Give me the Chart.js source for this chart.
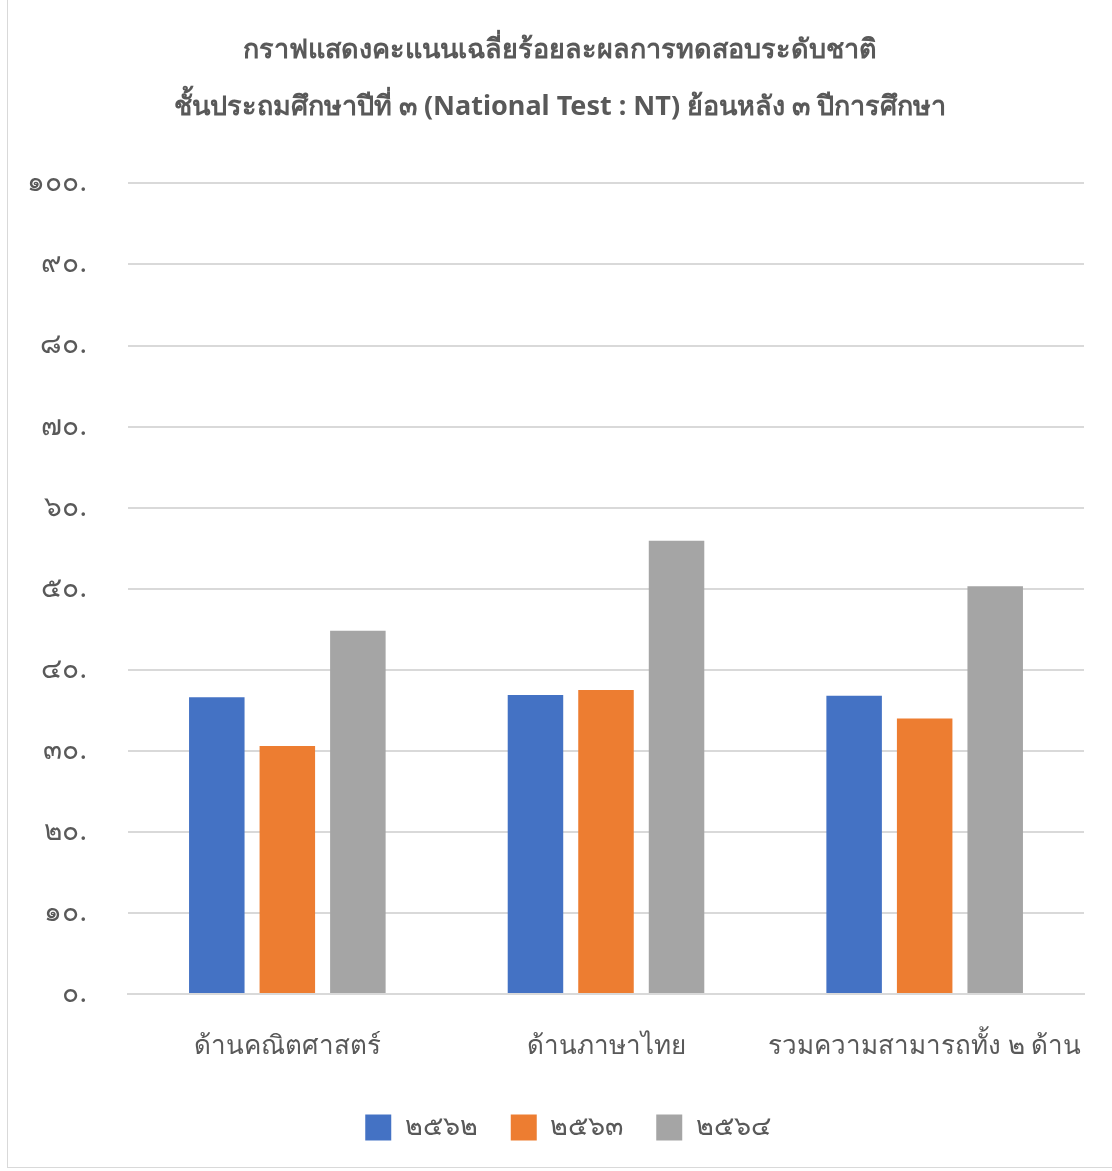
<!DOCTYPE html>
<html>
<head>
<meta charset="utf-8">
<script src="https://cdn.jsdelivr.net/npm/chart.js@4.4.1/dist/chart.umd.min.js"></script>
<style>
	html, body { margin: 0; padding: 0; background: #fff; }
	#frame { position: absolute; left: 7px; top: -2px; width: 1120px; height: 1170px; border: 1px solid #d9d9d9; box-sizing: border-box; }
	#chart { position: absolute; left: 0; top: 0; }
</style>
</head>
<body>
<div id="frame"></div>
<canvas id="chart" width="1112" height="1171"></canvas>
<script>
const categories = ["ด้านคณิตศาสตร์", "ด้านภาษาไทย", "รวมความสามารถทั้ง ๒ ด้าน"];
const seriesNames = ["๒๕๖๒", "๒๕๖๓", "๒๕๖๔"];
const scores2562 = [36.6, 36.9, 36.8];
const scores2563 = [30.6, 37.5, 34.0];
const scores2564 = [44.8, 55.9, 50.3];
const yTickLabels = ["๐.", "๑๐.", "๒๐.", "๓๐.", "๔๐.", "๕๐.", "๖๐.", "๗๐.", "๘๐.", "๙๐.", "๑๐๐."];
const titleLines = [
	"กราฟแสดงคะแนนเฉลี่ยร้อยละผลการทดสอบระดับชาติ",
	"ชั้นประถมศึกษาปีที่ ๓ (National Test : NT) ย้อนหลัง ๓ ปีการศึกษา"
];

const colors = ["#4472c4", "#ed7d31", "#a5a5a5"];
const textColor = "#595959";
const fontFamily = "Tahoma, 'Noto Sans', sans-serif";

const data = {
	labels: categories,
	datasets: [scores2562, scores2563, scores2564].map((values, i) => ({
		label: seriesNames[i],
		data: values,
		backgroundColor: colors[i],
		borderWidth: 0,
		categoryPercentage: 0.664,
		barPercentage: 0.787
	}))
};

// title and legend sit a bit right of the plot centre in the original
const nudgeBlocks = {
	id: "nudgeBlocks",
	afterLayout: chart => {
		if (chart.titleBlock) {
			chart.titleBlock.left += 14;
			chart.titleBlock.right += 14;
		}
		if (chart.legend) {
			chart.legend.left += 22;
			chart.legend.right += 22;
		}
	}
};

const chart = new Chart(document.querySelector("#chart"), {
	type: "bar",
	data,
	options: {
		responsive: false,
		animation: false,
		layout: {
			padding: { left: 8, right: 28, top: 22, bottom: 20 }
		},
		plugins: {
			title: {
				display: true,
				text: titleLines,
				color: textColor,
				font: { family: fontFamily, size: 27, weight: "bold", lineHeight: 2.1 },
				padding: { top: 0, bottom: 48 }
			},
			legend: {
				position: "bottom",
				labels: {
					color: textColor,
					font: { family: fontFamily, size: 27 },
					boxWidth: 26,
					boxHeight: 26,
					padding: 33
				}
			},
			tooltip: { enabled: false }
		},
		scales: {
			x: {
				afterFit: scale => {
					scale.height = 87;
					scale.paddingLeft = 0;
					scale.paddingRight = 0;
				},
				grid: { display: false },
				border: { color: "#d9d9d9", width: 2 },
				ticks: {
					color: textColor,
					font: { family: fontFamily, size: 26, lineHeight: 1.0 },
					padding: 32,
					maxRotation: 0,
					minRotation: 0,
					autoSkip: false
				}
			},
			y: {
				min: 0,
				max: 100,
				afterFit: scale => { scale.width = 120; },
				grid: { color: "#d9d9d9", lineWidth: 2, drawTicks: false },
				border: { display: false },
				ticks: {
					stepSize: 10,
					color: textColor,
					font: { family: fontFamily, size: 28 },
					padding: 41,
					callback: (value, index) => yTickLabels[index]
				}
			}
		}
	},
	plugins: [nudgeBlocks]
});
</script>
</body>
</html>
